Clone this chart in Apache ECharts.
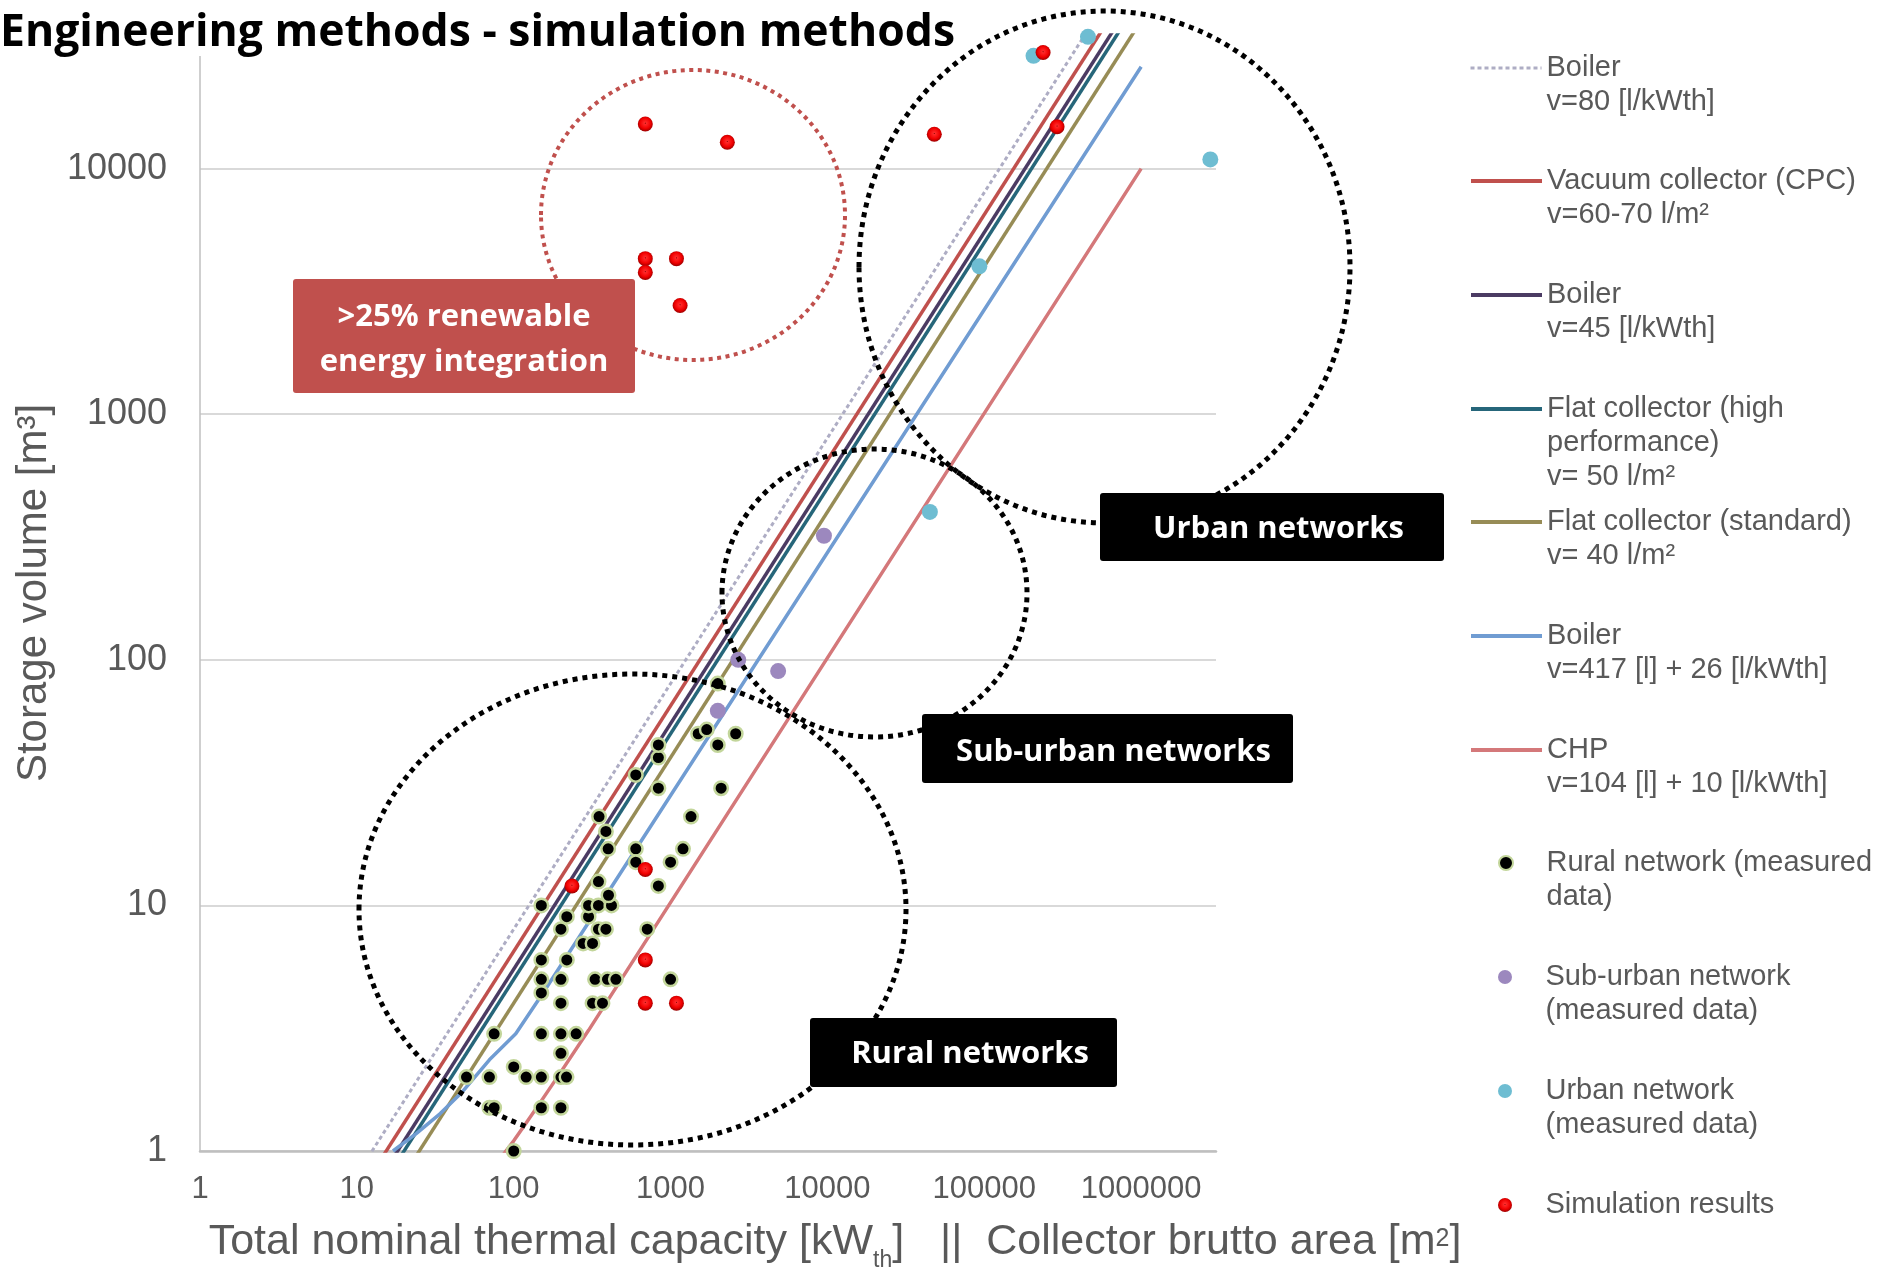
<!DOCTYPE html>
<html>
<head>
<meta charset="utf-8">
<title>Engineering methods - simulation methods</title>
<script src="https://cdn.jsdelivr.net/npm/echarts@6.0.0/dist/echarts.min.js"></script>
<style>
  html, body { margin: 0; padding: 0; background: #ffffff; }
  #chart { width: 1894px; height: 1267px; }
</style>
</head>
<body>
<div id="chart"></div>
<script>
// ---- Tick labels -------------------------------------------------------
const xTickLabels = ['1', '10', '100', '1000', '10000', '100000', '1000000'];
const yTickLabels = ['1', '10', '100', '1000', '10000'];

// ---- Sizing rules (storage volume [m3] vs capacity / collector area) ----
const boiler80X = [10, 1000000];
const boiler80Y = [0.8, 80000];
const cpcX = [10, 1000000];
const cpcY = [0.65, 65000];
const boiler45X = [10, 1000000];
const boiler45Y = [0.55, 55000];
const flatHighX = [10, 1000000];
const flatHighY = [0.5, 50000];
const flatStdX = [10, 1000000];
const flatStdY = [0.4, 40000];
const boiler417X = [17, 24, 34, 47, 70, 103, 153, 1000000];
const boiler417Y = [1, 1.18, 1.42, 1.74, 2.35, 3.0, 4.38, 26000];
const chpX = [84, 100, 120, 150, 200, 300, 1000000];
const chpY = [0.95, 1.1, 1.3, 1.6, 2.1, 3.1, 10000];

// ---- Measured networks -------------------------------------------------
const ruralX = [100, 70, 75, 150, 200, 50, 70, 120, 150, 200, 217, 100, 200, 75, 150, 200, 250,
  150, 200, 318, 368, 150, 200, 330, 396, 448, 1000, 150, 218, 277, 318, 200, 347, 387, 710,
  218, 300, 150, 300, 347, 420, 402, 347, 350, 387, 400, 600, 600, 836, 1000, 1200, 1350,
  600, 836, 836, 836, 2100, 2000, 1500, 1700, 2000, 2600];
const ruralY = [1, 1.5, 1.5, 1.5, 1.5, 2, 2, 2, 2, 2, 2, 2.2, 2.5, 3, 3, 3, 3,
  4.4, 4, 4, 4, 5, 5, 5, 5, 5, 5, 6, 6, 7, 7, 8, 8, 8, 8,
  9, 9, 10, 10, 10, 10, 11, 12.5, 23, 20, 17, 17, 15, 12, 15, 17, 23,
  34, 30, 40, 45, 30, 45, 50, 52, 80, 50];
const subUrbanX = [2000, 2700, 4850, 9500];
const subUrbanY = [62, 100, 90, 320];
const urbanX = [45000, 93000, 206000, 458000, 2760000];
const urbanY = [400, 4000, 28800, 34400, 10900];

// ---- Simulation results ------------------------------------------------
const simX = [235, 690, 690, 690, 1090, 690, 2300, 690, 690, 1090, 1150, 48000, 237000, 291000];
const simY = [12, 14, 6, 4, 4, 15200, 12800, 4300, 3780, 4300, 2770, 13800, 29700, 14800];

// ---- Names -------------------------------------------------------------
const seriesNames = [
  'Boiler\nv=80 [l/kWth]',
  'Vacuum collector (CPC)\nv=60-70 l/m²',
  'Boiler\nv=45 [l/kWth]',
  'Flat collector (high\nperformance)\nv= 50 l/m²',
  'Flat collector (standard)\nv= 40 l/m²',
  'Boiler\nv=417 [l] + 26 [l/kWth]',
  'CHP\nv=104 [l] + 10 [l/kWth]',
  'Rural network (measured\ndata)',
  'Sub-urban network\n(measured data)',
  'Urban network\n(measured data)',
  'Simulation results'
];

const FONT = "'Liberation Sans', Arial, sans-serif";
const BOLD = "'Open Sans', sans-serif";
const GREY_TEXT = '#595959';

function pairs(xs, ys) { return xs.map((x, i) => [x, ys[i]]); }

function tickFormatter(labels) {
  return function (v) {
    const e = Math.log10(v);
    const i = Math.round(e);
    return Math.abs(e - i) < 1e-6 && labels[i] !== undefined ? labels[i] : '';
  };
}

const lineDefs = [
  { xs: boiler80X, ys: boiler80Y, color: '#AEADC4', width: 3, dash: [4, 3] },
  { xs: cpcX, ys: cpcY, color: '#C0504D', width: 3.5 },
  { xs: boiler45X, ys: boiler45Y, color: '#4B3B63', width: 3.5 },
  { xs: flatHighX, ys: flatHighY, color: '#26667A', width: 3.5 },
  { xs: flatStdX, ys: flatStdY, color: '#978C56', width: 3.5 },
  { xs: boiler417X, ys: boiler417Y, color: '#709CD2', width: 3.5 },
  { xs: chpX, ys: chpY, color: '#D4787A', width: 3.5 }
];

const series = lineDefs.map((d, i) => ({
  name: seriesNames[i],
  type: 'line',
  data: pairs(d.xs, d.ys),
  symbol: 'none',
  showSymbol: false,
  clip: true,
  z: 2,
  animation: false,
  lineStyle: { color: d.color, width: d.width, type: d.dash ? d.dash : 'solid', cap: 'butt' },
  itemStyle: { color: d.color }
}));

series.push({
  name: seriesNames[7], type: 'scatter', data: pairs(ruralX, ruralY),
  symbol: 'circle', symbolSize: 13.5, z: 3, animation: false,
  itemStyle: { color: '#000000', borderColor: '#C3D69B', borderWidth: 2.5, opacity: 1 }
});
series.push({
  name: seriesNames[8], type: 'scatter', data: pairs(subUrbanX, subUrbanY),
  symbol: 'circle', symbolSize: 16, z: 3, animation: false,
  itemStyle: { color: '#9C88BE', opacity: 1 }
});
series.push({
  name: seriesNames[9], type: 'scatter', data: pairs(urbanX, urbanY),
  symbol: 'circle', symbolSize: 16, z: 3, animation: false,
  itemStyle: { color: '#6EBDD2', opacity: 1 }
});
series.push({
  name: seriesNames[10], type: 'scatter', data: pairs(simX, simY),
  symbol: 'circle', symbolSize: 15, z: 4, animation: false,
  itemStyle: {
    opacity: 1,
    color: {
      type: 'radial', x: 0.5, y: 0.45, r: 0.55,
      colorStops: [
        { offset: 0, color: '#8a0000' },
        { offset: 0.12, color: '#ff2a2a' },
        { offset: 0.65, color: '#f00000' },
        { offset: 1, color: '#9a0000' }
      ]
    }
  }
});

// One legend block per entry so every entry sits on an even pitch.
// Blank lines are put in front of multi-line names so the key lines up
// with the first line of text.
const legendPitch = 113.7;
const legendFirst = 67.5;
const legendLine = 34;
const legends = seriesNames.map((name, i) => {
  const n = name.split('\n').length;
  const isLine = i < lineDefs.length;
  const block = {
    data: [name],
    orient: 'vertical',
    left: isLine ? 1469 : 1498,
    top: Math.round(legendFirst + legendPitch * i - (2 * n - 1) * legendLine / 2),
    padding: 0,
    itemWidth: 71,
    itemHeight: 14,
    selectedMode: false,
    formatter: function (label) { return '\n'.repeat(n - 1) + label; },
    textStyle: { fontFamily: FONT, fontSize: 29, lineHeight: legendLine, color: GREY_TEXT }
  };
  if (isLine) {
    // keys of the rule lines show the stroke only
    block.itemStyle = { opacity: 0 };
    block.lineStyle = { width: i === 0 ? 3 : 4, opacity: 1 };
  }
  return block;
});

// Dotted outlines and label boxes for the network groups.
function dottedEllipse(cx, cy, rx, ry, color, w, dash) {
  return {
    type: 'ellipse', silent: true, z: 100,
    shape: { cx: cx, cy: cy, rx: rx, ry: ry },
    style: { fill: 'none', stroke: color, lineWidth: w, lineDash: dash, lineCap: 'butt' }
  };
}
function labelBox(x, y, w, h, fill, text, tx, ty) {
  return [
    { type: 'rect', silent: true, z: 110, shape: { x: x, y: y, width: w, height: h, r: 3 }, style: { fill: fill } },
    {
      type: 'text', silent: true, z: 111, x: tx, y: ty,
      style: {
        text: text, fill: '#ffffff', fontFamily: BOLD, fontWeight: 'bold', fontSize: 31,
        lineHeight: 45, align: 'center', verticalAlign: 'middle',
        textAlign: 'center', textVerticalAlign: 'middle'
      }
    }
  ];
}

const graphicElements = [
  dottedEllipse(693, 215, 152, 145, '#C0504D', 4, [4, 4.5]),
  dottedEllipse(1104.5, 267, 245.5, 256, '#000000', 5, [5, 5]),
  dottedEllipse(874.5, 593, 152.5, 144, '#000000', 5, [5, 5]),
  dottedEllipse(632.5, 909.5, 273.5, 235.5, '#000000', 5, [5, 5])
].concat(
  labelBox(293, 279, 342, 114, '#C0504D', '>25% renewable\nenergy integration', 464, 340),
  labelBox(1100, 493, 344, 68, '#000000', 'Urban networks', 1278.5, 529),
  labelBox(922, 714, 371, 69, '#000000', 'Sub-urban networks', 1113.5, 752),
  labelBox(810, 1018, 307, 69, '#000000', 'Rural networks', 970, 1054)
);

const option = {
  animation: false,
  backgroundColor: '#ffffff',
  title: {
    text: 'Engineering methods - simulation methods',
    left: 0, top: 10, padding: 0,
    backgroundColor: '#ffffff',
    textStyle: { fontFamily: BOLD, fontWeight: 'bold', fontSize: 44.5, lineHeight: 46, color: '#000000' }
  },
  legend: legends,
  grid: { left: 200, right: 678, top: 35, bottom: 116, containLabel: false, outerBoundsMode: 'none' },
  xAxis: {
    type: 'log', logBase: 10, min: 1, max: 3000000,
    axisLine: { show: true, onZero: false, lineStyle: { color: '#BFBFBF', width: 2.5 } },
    axisTick: { show: false },
    splitLine: { show: false },
    axisLabel: {
      margin: 23, fontFamily: FONT, fontSize: 31, color: GREY_TEXT,
      formatter: tickFormatter(xTickLabels), showMaxLabel: false
    },
    name: 'Total nominal thermal capacity [kW{sub|th}]   ||  Collector brutto area [m{sup|2}]',
    nameLocation: 'middle', nameGap: 70, nameMoveOverlap: false,
    nameTextStyle: {
      fontFamily: FONT, fontSize: 43, lineHeight: 43, color: GREY_TEXT,
      padding: [0, 0, 0, 254],
      rich: {
        sub: { fontFamily: FONT, fontSize: 23, lineHeight: 23, color: GREY_TEXT, padding: [36, 0, 0, 0] },
        sup: { fontFamily: FONT, fontSize: 25, lineHeight: 25, color: GREY_TEXT, padding: [0, 0, 6, 0] }
      }
    }
  },
  yAxis: {
    type: 'log', logBase: 10, min: 1, max: 35000,
    axisLine: { show: true, lineStyle: { color: '#BFBFBF', width: 1.5 } },
    axisTick: { show: false },
    splitLine: { show: true, showMaxLine: false, lineStyle: { color: '#D9D9D9', width: 2 } },
    axisLabel: {
      margin: 33, fontFamily: FONT, fontSize: 36, color: GREY_TEXT,
      formatter: tickFormatter(yTickLabels), showMaxLabel: false
    },
    name: 'Storage volume [m³]',
    nameLocation: 'middle', nameGap: 145, nameMoveOverlap: false,
    nameTextStyle: { fontFamily: FONT, fontSize: 42, color: GREY_TEXT }
  },
  graphic: { elements: graphicElements },
  series: series
};

const chart = echarts.init(document.getElementById('chart'), null, { renderer: 'canvas' });
chart.setOption(option);
</script>
</body>
</html>
